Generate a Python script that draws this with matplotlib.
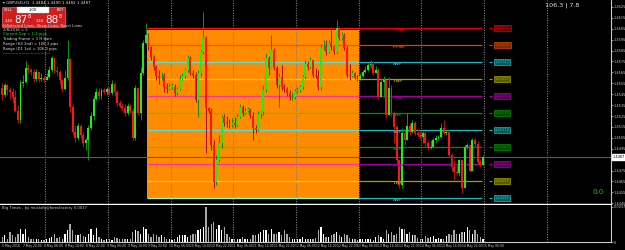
import matplotlib
matplotlib.use("Agg")
import matplotlib.pyplot as plt
from matplotlib.patches import Rectangle

W, H = 625, 250
BASE = 1.4400
PIP = 0.0001

# ---------------- data (prices in pips above 1.4400) ----------------
first_open = 151
closes = [144,153,149,147,142,130,121,155,156,169,
          167,165,159,165,159,160,158,161,167,178,
          166,165,158,150,160,177,133,110,105,116,
          108,100,103,114,125,141,147,143,149,147,
          150,146,154,147,137,134,132,128,134,130,
          105,151,128,164,192,199,
          188,179,170,162,160,163,152,150,152,152,
          146,150,159,162,167,178,164,163,140,164,
          184,197,132,130,98,64,85,100,124,119,
          118,117,119,117,124,133,128,130,131,125,
          114,112,127,129,149,178,169,186,169,153,
          161,152,150,146,142,142,148,149,152,161,
          173,170,176,163,162,152,187,190,184,192,
          188,184,206,197,199,187,163,162,164,160,
          158,162,165,167,172,173,164,167,142,156,
          158,126,151,128,115,85,62,109,103,116,
          110,119,109,108,106,109,100,96,97,103,
          105,106,114,109,110,89,78,74,73,85,
          59,97,98,75,103,99,83,80,87]
highs = [155,155,154,152,151,149,135,158,163,175,
         173,169,168,168,165,164,162,164,171,180,
         179,171,167,160,167,195,178,135,117,119,
         118,110,105,117,129,144,151,151,151,151,
         152,152,158,156,149,140,137,136,137,136,
         132,153,152,170,195,210,
         201,189,181,172,167,165,164,155,155,155,
         154,152,163,164,169,181,180,167,165,167,
         186,220,198,133,132,103,89,108,126,127,
         125,122,123,124,127,136,135,133,133,132,
         129,117,130,130,153,183,180,199,187,171,
         164,172,154,152,149,147,150,152,153,163,
         176,175,179,176,169,167,191,195,195,195,
         204,189,213,208,202,201,189,173,167,165,
         163,164,167,171,174,176,175,171,169,160,
         162,158,161,153,130,117,85,114,112,128,
         119,121,120,113,111,111,111,103,103,105,
         108,108,119,121,112,110,91,85,80,86,
         86,98,100,98,105,105,102,86,89]
lows = [140,142,144,141,137,129,119,119,152,155,
        164,163,156,157,156,157,156,158,160,165,
        164,162,154,147,149,158,129,108,101,103,
        105,97,94,85,112,121,140,141,141,145,
        144,144,144,143,134,132,130,125,126,128,
        103,103,126,121,163,191,
        186,176,167,158,154,158,147,146,149,150,
        143,144,149,158,160,165,163,160,138,124,
        162,182,91,128,94,59,62,83,96,116,
        115,114,115,114,116,123,125,127,129,123,
        103,109,111,123,126,147,163,169,167,151,
        133,149,147,143,140,140,141,146,147,150,
        159,167,169,161,160,149,149,186,181,183,
        186,182,183,195,195,186,161,158,161,159,
        157,158,161,164,166,169,163,164,141,142,
        142,123,126,125,100,80,59,59,98,103,
        108,109,108,107,104,100,97,94,95,97,
        101,103,105,108,108,87,75,66,71,70,
        54,59,95,74,75,97,81,78,79]
volumes = [15,20,10,30,20,15,25,40,25,38,
           15,10,10,8,8,5,5,8,12,15,
           25,12,15,10,25,35,55,35,20,22,
           25,18,15,25,40,20,42,15,10,5,
           10,8,6,15,12,10,10,8,10,10,
           30,35,33,25,45,40,25,15,25,20,
           15,20,15,10,8,5,10,15,20,20,
           20,15,20,25,25,35,40,45,105,45,
           55,60,40,50,35,45,25,15,10,8,
           10,8,15,10,8,8,20,22,25,30,
           35,35,25,38,25,25,30,20,35,25,
           15,10,10,8,8,
           15,8,8,8,10,12,35,45,25,15,
           15,20,25,30,20,15,25,20,12,10,
           10,5,8,8,8,10,10,5,15,20,
           15,10,35,25,30,20,25,45,40,40,
           25,30,20,20,12,8,8,18,12,15,
           18,10,12,8,10,18,25,20,35,25,
           25,30,30,45,35,25,35,25,15,10]
volumes = [v * 30 for v in volumes]

price_ticks = [1.4625, 1.4615, 1.4605, 1.4595, 1.4585, 1.4575, 1.4565, 1.4555,
               1.4545, 1.4535, 1.4525, 1.4515, 1.4505, 1.4495, 1.4475, 1.4465,
               1.4455, 1.4445]
current_price = 1.44874

fib_levels = [1.46055, 1.45899, 1.45743, 1.45587, 1.45431, 1.45275,
              1.45119, 1.44963, 1.44807, 1.44651, 1.44495]
fib_in_colors = ["#ff1010", "#ff4a10", "#50e0e0", "#ffd000", "#ff30a0", "#78b400",
                 "#50e0e0", "#78b400", "#ff30a0", "#ffd000", "#80ffd0"]
fib_out_colors = ["#e00000", "#e04000", "#20b8c0", "#a0a000", "#a000a0", "#009000",
                  "#20b8c0", "#009000", "#a000a0", "#a0a000", "#20b8c0"]
fib_box_colors = ["#600000", "#703000", "#005a5a", "#5a5a00", "#500050", "#004800",
                  "#005a5a", "#004800", "#500050", "#5a5a00", "#005a5a"]
fib_tags = ["F+NP", "F+NP", "SNP", "TNP", "F-NP", "FNP", "SNP", "FNP", "F-NP", "TNP", "SNP"]

box_start, box_end = 55.5, 136.5
box_top, box_bottom = 1.46040, 1.44495
line_end = 183.5
label_bar = 149.5
day_seps = [16.5 + 24 * k for k in range(9)]

time_labels = ["5 May 2016", "7 May 22:00", "8 May 06:00", "8 May 14:00", "8 May 22:00",
               "9 May 06:00", "9 May 14:00", "9 May 22:00", "10 May 06:00", "10 May 14:00",
               "10 May 22:00", "11 May 06:00", "11 May 14:00", "11 May 22:00", "12 May 06:00",
               "12 May 14:00", "12 May 22:00", "13 May 06:00", "13 May 14:00", "13 May 22:00",
               "14 May 06:00", "14 May 14:00", "14 May 22:00", "15 May 06:00"]

# ---------------- figure ----------------
fig = plt.figure(figsize=(W / 100, H / 100), dpi=100, facecolor="black")

XL = (-0.84, 233.04)
ax = fig.add_axes([0, 46 / H, 611 / W, 204 / H])
ax.set_facecolor("black")
ax.set_xlim(*XL)
ax.set_ylim(1.444427, 1.463142)

n = len(closes)
opens = [first_open] + closes[:-1]
xs = list(range(n))
O = [BASE + v * PIP for v in opens]
C = [BASE + v * PIP for v in closes]
Hh = [BASE + v * PIP for v in highs]
L = [BASE + v * PIP for v in lows]

# orange range box
ax.add_patch(Rectangle((box_start, box_bottom), box_end - box_start, box_top - box_bottom,
                       facecolor="#ff8c00", edgecolor="none", zorder=1))

for sx in day_seps:
    ax.axvline(sx, color="#7a7a7a", lw=0.8, ls=(0, (1, 1.2)), zorder=2)

ax.axhline(current_price, color="#5a5a5a", lw=0.8, zorder=2)

for lvl, ci, co, tag, cb in zip(fib_levels, fib_in_colors, fib_out_colors, fib_tags, fib_box_colors):
    ax.hlines(lvl, box_start, box_end, color=ci, lw=0.9, zorder=3)
    ax.hlines(lvl, box_end, line_end, color=co, lw=0.9, zorder=3)
    ax.text(label_bar, lvl, tag, color=co, fontsize=3.0, ha="left", va="top", zorder=6,
            fontweight="bold")
    ax.hlines(lvl, 186.2, 187.6, color=co, lw=0.8, zorder=3)
    ax.text(188.5, lvl, "1.%05d" % round(lvl * 100000 - 100000), color=co, fontsize=2.6,
            ha="left", va="center", zorder=6,
            bbox=dict(boxstyle="square,pad=0.25", fc=cb, ec=co, lw=0.5))

up = [c >= o for o, c in zip(O, C)]
wick_cols = ["#0f8f0f" if u else "#b01212" for u in up]
body_cols = ["#19f019" if u else "#ff1414" for u in up]
ax.vlines(xs, L, Hh, colors=wick_cols, lw=0.75, zorder=4)
bottoms = [min(o, c) for o, c in zip(O, C)]
heights = [max(abs(c - o), 0.00004) for o, c in zip(O, C)]
ax.bar(xs, heights, bottom=bottoms, width=0.72, color=body_cols, zorder=5, linewidth=0)

ax.yaxis.tick_right()
ax.set_yticks(price_ticks)
ax.set_yticklabels(["%.4f" % t for t in price_ticks])
ax.tick_params(axis="y", colors="#c8c8c8", labelsize=2.5, length=1.2, width=0.5, pad=0.6)
ax.set_xticks([])
for s in ("left", "top"):
    ax.spines[s].set_visible(False)
ax.spines["right"].set_color("#c8c8c8")
ax.spines["right"].set_linewidth(0.8)
ax.spines["bottom"].set_color("#ffffff")
ax.spines["bottom"].set_linewidth(1.0)

ax.text(1.002, current_price, "1.4487", transform=ax.get_yaxis_transform(), color="black",
        fontsize=2.5, ha="left", va="center",
        bbox=dict(boxstyle="square,pad=0.15", fc="white", ec="white"))

# ---------------- volume panel ----------------
vax = fig.add_axes([0, 8 / H, 611 / W, 37 / H])
vax.set_facecolor("black")
vax.set_xlim(*XL)
vax.set_ylim(0, 3330)
vcols = ["#ffffff" if u else "#a8a8a8" for u in up]
vax.bar(xs, volumes, width=0.5, color=vcols, linewidth=0, zorder=3)
for sx in day_seps:
    vax.axvline(sx, color="#7a7a7a", lw=0.8, ls=(0, (1, 1.2)), zorder=2)
vax.set_xticks([])
vax.yaxis.tick_right()
vax.set_yticks([0, 3150])
vax.set_yticklabels(["0", "0.0037"])
vax.tick_params(axis="y", colors="#c8c8c8", labelsize=2.5, length=1.2, width=0.5, pad=0.6)
for s in ("left", "top"):
    vax.spines[s].set_visible(False)
vax.spines["right"].set_color("#c8c8c8")
vax.spines["right"].set_linewidth(0.8)
vax.spines["bottom"].set_color("#c8c8c8")
vax.spines["bottom"].set_linewidth(0.8)
vax.text(0.004, 0.97, "Big Times - by mustafa@forexfactory 0.0037", transform=vax.transAxes,
         color="#d0d0d0", fontsize=2.7, ha="left", va="top")

# time labels
for k, lab in enumerate(time_labels):
    bx = 8 * k
    px = (bx - XL[0]) / (XL[1] - XL[0]) * 611
    if px > 600:
        break
    fig.text(px / W, 1 - 246 / H, lab, color="#d0d0d0", fontsize=2.2, ha="left", va="center")

# ---------------- header / overlays ----------------
fig.text(3 / W, 1 - 3 / H, "\u25be GBPUSD,H1  1.4484 1.4490 1.4482 1.4487", color="#e0e0e0",
         fontsize=2.8, ha="left", va="center")
# one-click trading panel
fig.patches.append(Rectangle((2 / W, 1 - 27 / H), 63 / W, 20 / H, transform=fig.transFigure,
                             fc="#d01e1e", ec="#ff6060", lw=0.5))
fig.patches.append(Rectangle((17 / W, 1 - 12.5 / H), 32 / W, 5.5 / H, transform=fig.transFigure,
                             fc="white", ec="#bbbbbb", lw=0.3))
fig.text(4 / W, 1 - 10 / H, "SELL", color="white", fontsize=2.6, ha="left", va="center")
fig.text(57 / W, 1 - 10 / H, "BUY", color="white", fontsize=2.6, ha="left", va="center")
fig.text(33 / W, 1 - 10 / H, "1.00", color="black", fontsize=2.6, ha="center", va="center")
fig.text(5 / W, 1 - 21 / H, "1.44", color="white", fontsize=2.6, ha="left", va="center")
fig.text(14 / W, 1 - 20 / H, "87", color="white", fontsize=7.5, ha="left", va="center")
fig.text(28 / W, 1 - 16 / H, "8", color="white", fontsize=3.5, ha="left", va="center")
fig.text(36 / W, 1 - 21 / H, "1.44", color="white", fontsize=2.6, ha="left", va="center")
fig.text(45 / W, 1 - 20 / H, "88", color="white", fontsize=7.5, ha="left", va="center")
fig.text(59 / W, 1 - 16 / H, "8", color="white", fontsize=3.5, ha="left", va="center")

info_lines = [("IdSelected Lines: Show Lines: Reset Lines", "#e0e0e0", 26),
              ("2/8/2016 = 5", "#e0e0e0", 30),
              ("Current Gap = 1.1 pips", "#20e020", 34),
              ("Trading Frame = 1 H bars", "#e0e0e0", 39),
              ("Range (H4 2nd) = 106.3 pips", "#e0e0e0", 44),
              ("Range (D1 1st) = 106.3 pips", "#e0e0e0", 49),
              ("-----------------------------------", "#e0e0e0", 53)]
for txt, col, yy in info_lines:
    fig.text(3 / W, 1 - yy / H, txt, color=col, fontsize=2.7, ha="left", va="center")

fig.text(562 / W, 1 - 5 / H, "106.3 | 7.8", color="#e8e8e8", fontsize=4.6, ha="center",
         va="center")
fig.text(598 / W, 1 - 192 / H, "0.0", color="#20c020", fontsize=5.0, ha="center", va="center")

fig.savefig("out.png", dpi=100, facecolor="black")
